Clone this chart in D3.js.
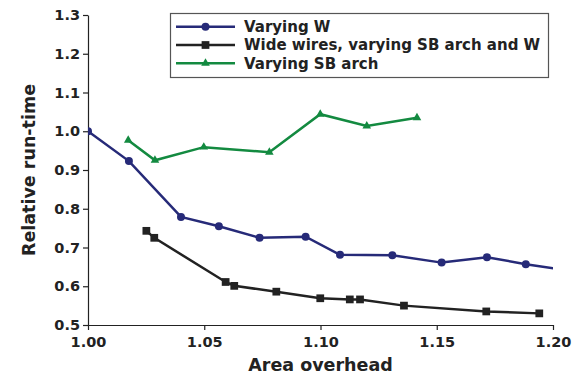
<!DOCTYPE html>
<html><head><meta charset="utf-8">
<script src="https://cdn.jsdelivr.net/npm/d3@7"></script>
<style>body{margin:0;background:#fff}svg{display:block}text{font-family:"DejaVu Sans";font-weight:bold;fill:#222}</style>
</head><body>
<svg id="c" width="580" height="375"></svg>
<script>
const seriesNames = ["Varying W", "Wide wires, varying SB arch and W", "Varying SB arch"];
const colors = ["#262a78", "#222222", "#138a40"];
const symbols = ["circle", "square", "triangle"];
const wX = [1.000, 1.0176, 1.040, 1.0563, 1.0738, 1.0936, 1.1084, 1.1309, 1.1521, 1.1716, 1.1883, 1.212];
const wY = [1.000, 0.923, 0.779, 0.755, 0.725, 0.728, 0.681, 0.680, 0.661, 0.675, 0.657, 0.636];
const bX = [1.0251, 1.0285, 1.0592, 1.0629, 1.081, 1.0999, 1.1126, 1.117, 1.1359, 1.1713, 1.1941];
const bY = [0.743, 0.725, 0.611, 0.601, 0.586, 0.569, 0.566, 0.566, 0.550, 0.535, 0.530];
const gX = [1.0173, 1.0288, 1.0498, 1.078, 1.0999, 1.1199, 1.1415];
const gY = [0.977, 0.925, 0.959, 0.946, 1.044, 1.0135, 1.035];
const xTicks = [1.00, 1.05, 1.10, 1.15, 1.20];
const yTicks = [0.5, 0.6, 0.7, 0.8, 0.9, 1.0, 1.1, 1.2, 1.3];

const series = [[wX, wY], [bX, bY], [gX, gY]].map((s, i) => ({
  name: seriesNames[i], color: colors[i], sym: symbols[i],
  pts: s[0].map((x, j) => [x, s[1][j]])
}));

const svg = d3.select("#c");
const L = 88, R = 553, T = 15, B = 325;
const x = d3.scaleLinear().domain([1.0, 1.2]).range([L, R]);
const y = d3.scaleLinear().domain([0.5, 1.3]).range([B, T]);

svg.append("defs").append("clipPath").attr("id", "clip")
  .append("rect").attr("x", L).attr("y", T - 10).attr("width", R - L).attr("height", B - T + 10);

const xa = svg.append("g").attr("transform", `translate(0,${B})`)
  .call(d3.axisBottom(x).tickValues(xTicks).tickFormat(d3.format(".2f")).tickSize(5).tickSizeOuter(0));
const ya = svg.append("g").attr("transform", `translate(${L},0)`)
  .call(d3.axisLeft(y).tickValues(yTicks).tickFormat(d3.format(".1f")).tickSize(5).tickSizeOuter(0));
[xa, ya].forEach(a => {
  a.select(".domain").attr("stroke", "#222").attr("stroke-width", 1.2);
  a.selectAll(".tick line").attr("stroke", "#222").attr("stroke-width", 1.2);
  a.selectAll(".tick text").style("font-family", "DejaVu Sans").style("font-weight", "bold").style("font-size", "14.5px").attr("fill", "#222");
});
xa.selectAll(".tick text").attr("dy", "0.95em");
ya.selectAll(".tick text").attr("x", -8);

svg.append("text").attr("x", (L + R) / 2).attr("y", 371).attr("text-anchor", "middle").style("font-size", "17.5px").text("Area overhead");
svg.append("text").attr("transform", `translate(35,${(T + B) / 2}) rotate(-90)`).attr("text-anchor", "middle").style("font-size", "17.5px").text("Relative run-time");

const line = d3.line().x(d => x(d[0])).y(d => y(d[1]));
const symMap = {circle: d3.symbolCircle, square: d3.symbolSquare, triangle: d3.symbolTriangle};
const symSize = {circle: 50, square: 60, triangle: 32};
const plot = svg.append("g").attr("clip-path", "url(#clip)");
series.forEach(s => {
  plot.append("path").attr("d", line(s.pts)).attr("fill", "none").attr("stroke", s.color).attr("stroke-width", 2.5);
  plot.selectAll(null).data(s.pts.filter(p => p[0] <= 1.2)).join("path")
    .attr("transform", d => `translate(${x(d[0])},${y(d[1])})`)
    .attr("d", d3.symbol().type(symMap[s.sym]).size(symSize[s.sym])).attr("fill", s.color);
});

// legend
const lg = svg.append("g");
lg.append("rect").attr("x", 170.5).attr("y", 13.5).attr("width", 378).attr("height", 64)
  .attr("fill", "#fff").attr("stroke", "#555").attr("stroke-width", 1.2);
series.forEach((s, i) => {
  const yy = 26.7 + i * 18.3;
  lg.append("line").attr("x1", 176).attr("x2", 235).attr("y1", yy).attr("y2", yy).attr("stroke", s.color).attr("stroke-width", 2.5);
  lg.append("path").attr("transform", `translate(205.5,${yy})`).attr("d", d3.symbol().type(symMap[s.sym]).size(symSize[s.sym])).attr("fill", s.color);
  lg.append("text").attr("x", 244).attr("y", yy).attr("dy", "0.36em").style("font-size", "15px").text(s.name);
});
</script>
</body></html>
